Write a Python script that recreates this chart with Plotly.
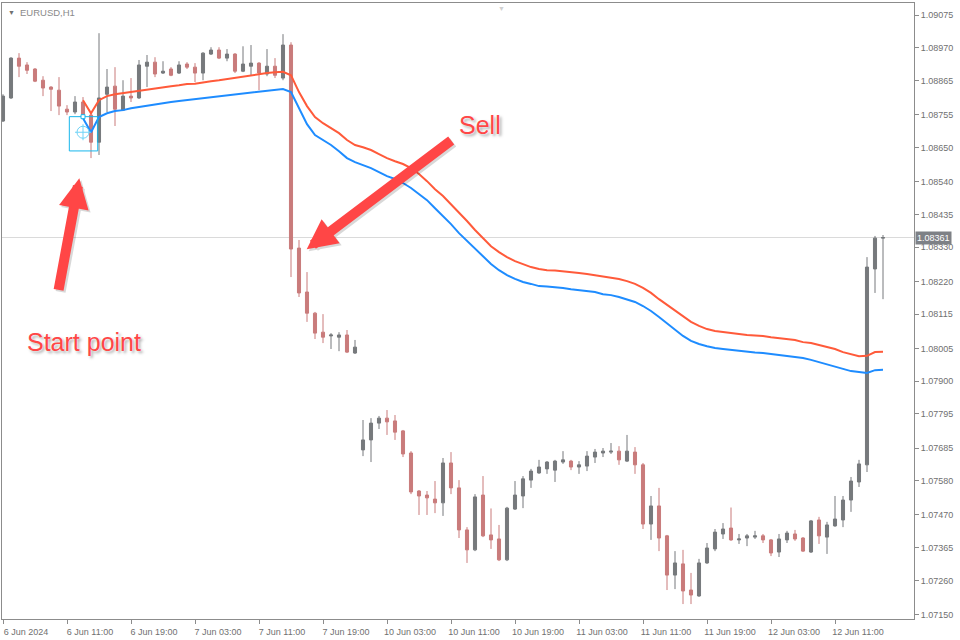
import plotly.graph_objects as go

# ---------------- data (EURUSD H1) ----------------
bar_index = list(range(111))
opens = [1.08735,1.08809,1.08937,1.08915,1.08902,1.08866,1.08844,1.08834,1.08773,1.08764,
         1.08796,1.08754,1.08667,1.08821,1.08847,1.08770,1.08815,1.08809,1.08911,1.08924,
         1.08889,1.08902,1.08889,1.08918,1.08908,1.08889,1.08950,1.08963,1.08937,1.08950,
         1.08895,1.08911,1.08921,1.08886,1.08911,1.08873,1.08979,1.08327,1.08186,1.08118,
         1.08057,1.08045,1.08041,1.08048,1.07990,1.07679,1.07711,1.07765,1.07781,1.07772,
         1.07740,1.07669,1.07547,1.07534,1.07521,1.07509,1.07637,1.07557,1.07422,1.07358,
         1.07534,1.07406,1.07393,1.07326,1.07489,1.07531,1.07582,1.07605,1.07618,1.07614,
         1.07640,1.07643,1.07624,1.07627,1.07656,1.07669,1.07672,1.07675,1.07643,1.07672,
         1.07631,1.07441,1.07499,1.07403,1.07277,1.07313,1.07229,1.07210,1.07316,1.07361,
         1.07409,1.07428,1.07390,1.07396,1.07399,1.07403,1.07390,1.07351,1.07390,1.07409,
         1.07396,1.07351,1.07454,1.07399,1.07435,1.07454,1.07518,1.07576,1.07631,1.08260,
         1.08359]
highs = [1.08821,1.08940,1.08953,1.08924,1.08905,1.08879,1.08847,1.08876,1.08786,1.08815,
         1.08812,1.08764,1.09017,1.08902,1.08908,1.08866,1.08873,1.08931,1.08947,1.08940,
         1.08927,1.08908,1.08927,1.08924,1.08921,1.08956,1.08972,1.08972,1.08966,1.08953,
         1.08975,1.08979,1.08924,1.08966,1.08937,1.09014,1.08988,1.08353,1.08250,1.08122,
         1.08115,1.08054,1.08057,1.08064,1.08032,1.07775,1.07781,1.07788,1.07807,1.07791,
         1.07743,1.07675,1.07550,1.07547,1.07579,1.07653,1.07672,1.07582,1.07431,1.07537,
         1.07595,1.07491,1.07438,1.07496,1.07579,1.07595,1.07618,1.07647,1.07643,1.07647,
         1.07675,1.07647,1.07643,1.07675,1.07682,1.07685,1.07701,1.07691,1.07727,1.07688,
         1.07637,1.07531,1.07557,1.07406,1.07354,1.07358,1.07284,1.07329,1.07380,1.07425,
         1.07444,1.07494,1.07409,1.07409,1.07419,1.07409,1.07393,1.07409,1.07419,1.07422,
         1.07399,1.07454,1.07464,1.07448,1.07531,1.07531,1.07592,1.07647,1.08298,1.08366,
         1.08369]
lows = [1.08732,1.08806,1.08876,1.08886,1.08860,1.08815,1.08767,1.08754,1.08754,1.08757,
        1.08744,1.08616,1.08626,1.08764,1.08719,1.08767,1.08796,1.08806,1.08844,1.08876,
        1.08886,1.08879,1.08886,1.08902,1.08860,1.08866,1.08947,1.08934,1.08927,1.08889,
        1.08892,1.08882,1.08834,1.08879,1.08873,1.08866,1.08234,1.08170,1.08090,1.08035,
        1.08022,1.08003,1.07996,1.07990,1.07987,1.07659,1.07640,1.07746,1.07727,1.07711,
        1.07656,1.07537,1.07470,1.07470,1.07476,1.07467,1.07537,1.07396,1.07316,1.07354,
        1.07399,1.07361,1.07322,1.07322,1.07486,1.07492,1.07557,1.07602,1.07602,1.07576,
        1.07634,1.07614,1.07602,1.07611,1.07637,1.07656,1.07666,1.07631,1.07640,1.07602,
        1.07425,1.07390,1.07354,1.07229,1.07232,1.07184,1.07184,1.07207,1.07313,1.07354,
        1.07393,1.07387,1.07377,1.07370,1.07393,1.07380,1.07338,1.07335,1.07380,1.07387,
        1.07351,1.07348,1.07377,1.07345,1.07432,1.07431,1.07480,1.07560,1.07608,1.08183,
        1.08163]
closes = [1.08815,1.08937,1.08911,1.08898,1.08863,1.08841,1.08837,1.08783,1.08764,1.08796,
          1.08754,1.08667,1.08809,1.08844,1.08773,1.08815,1.08809,1.08915,1.08924,1.08886,
          1.08895,1.08882,1.08915,1.08908,1.08889,1.08953,1.08963,1.08937,1.08950,1.08895,
          1.08918,1.08921,1.08889,1.08911,1.08882,1.08979,1.08324,1.08183,1.08118,1.08054,
          1.08041,1.08048,1.08048,1.07993,1.08009,1.07711,1.07765,1.07781,1.07769,1.07736,
          1.07666,1.07544,1.07531,1.07525,1.07509,1.07637,1.07557,1.07422,1.07358,1.07528,
          1.07403,1.07390,1.07326,1.07492,1.07534,1.07586,1.07611,1.07624,1.07640,1.07643,
          1.07647,1.07624,1.07631,1.07659,1.07672,1.07675,1.07675,1.07647,1.07675,1.07631,
          1.07441,1.07499,1.07396,1.07277,1.07316,1.07226,1.07213,1.07316,1.07364,1.07415,
          1.07425,1.07390,1.07393,1.07403,1.07403,1.07390,1.07348,1.07393,1.07412,1.07393,
          1.07354,1.07451,1.07403,1.07438,1.07457,1.07518,1.07579,1.07634,1.08266,1.08359,
          1.08361]

ma_index = list(range(10, 111))
ma_red = [1.08802,1.08760,1.08802,1.08815,1.08821,1.08825,1.08828,1.08831,1.08837,1.08841,
          1.08844,1.08847,1.08850,1.08854,1.08855,1.08860,1.08863,1.08866,1.08870,1.08873,
          1.08879,1.08882,1.08886,1.08889,1.08892,1.08893,1.08882,1.08828,1.08783,1.08748,
          1.08728,1.08712,1.08696,1.08674,1.08658,1.08651,1.08642,1.08629,1.08616,1.08606,
          1.08597,1.08584,1.08565,1.08542,1.08516,1.08494,1.08468,1.08439,1.08414,1.08385,
          1.08359,1.08333,1.08314,1.08298,1.08285,1.08276,1.08266,1.08260,1.08256,1.08255,
          1.08253,1.08250,1.08247,1.08244,1.08240,1.08237,1.08234,1.08228,1.08221,1.08212,
          1.08199,1.08183,1.08163,1.08144,1.08125,1.08106,1.08090,1.08077,1.08067,1.08061,
          1.08057,1.08054,1.08051,1.08048,1.08047,1.08045,1.08041,1.08038,1.08035,1.08032,
          1.08025,1.08022,1.08016,1.08009,1.08003,1.07993,1.07987,1.07980,1.07981,1.07993,
          1.07994]
ma_blue = [1.08744,1.08699,1.08748,1.08760,1.08767,1.08770,1.08776,1.08780,1.08786,1.08789,
           1.08793,1.08796,1.08799,1.08802,1.08805,1.08809,1.08812,1.08815,1.08818,1.08821,
           1.08825,1.08828,1.08831,1.08834,1.08837,1.08838,1.08828,1.08776,1.08725,1.08690,
           1.08674,1.08658,1.08638,1.08616,1.08603,1.08594,1.08584,1.08571,1.08558,1.08549,
           1.08536,1.08520,1.08500,1.08481,1.08455,1.08430,1.08404,1.08375,1.08350,1.08324,
           1.08298,1.08276,1.08256,1.08240,1.08228,1.08218,1.08212,1.08205,1.08204,1.08202,
           1.08199,1.08195,1.08192,1.08189,1.08186,1.08179,1.08176,1.08170,1.08163,1.08154,
           1.08141,1.08125,1.08106,1.08086,1.08064,1.08045,1.08029,1.08019,1.08012,1.08006,
           1.08003,1.08000,1.07996,1.07993,1.07992,1.07990,1.07987,1.07984,1.07980,1.07977,
           1.07974,1.07968,1.07961,1.07955,1.07948,1.07939,1.07932,1.07929,1.07926,1.07935,
           1.07936]

x_tick_index = [0, 8, 16, 24, 32, 40, 48, 56, 64, 72, 80, 88, 96, 104]
x_tick_labels = ["6 Jun 2024", "6 Jun 11:00", "6 Jun 19:00", "7 Jun 03:00", "7 Jun 11:00",
                 "7 Jun 19:00", "10 Jun 03:00", "10 Jun 11:00", "10 Jun 19:00", "11 Jun 03:00",
                 "11 Jun 11:00", "11 Jun 19:00", "12 Jun 03:00", "12 Jun 11:00"]
y_tick_values = [1.07150, 1.07260, 1.07365, 1.07470, 1.07580, 1.07685, 1.07795, 1.07900,
                 1.08005, 1.08115, 1.08220, 1.08330, 1.08435, 1.08540, 1.08650, 1.08755,
                 1.08865, 1.08970, 1.09075]
last_price = 1.08361
symbol_title = "EURUSD,H1"

# ---------------- styling ----------------
BULL = "#76797c"
BEAR = "#c97b7b"
RED_MA = "#ff5a3a"
BLUE_MA = "#1e8cff"
ARROW = "#ff4646"
AXIS_TXT = "#707070"
FONT = "Liberation Sans, Arial, sans-serif"

fig = go.Figure()
fig.add_trace(go.Candlestick(
    x=bar_index, open=opens, high=highs, low=lows, close=closes,
    increasing=dict(line=dict(color=BULL, width=1), fillcolor=BULL),
    decreasing=dict(line=dict(color=BEAR, width=1), fillcolor=BEAR),
    whiskerwidth=0, showlegend=False, hoverinfo="skip"))
fig.add_trace(go.Scatter(x=ma_index, y=ma_red, mode="lines",
                         line=dict(color=RED_MA, width=2), showlegend=False, hoverinfo="skip"))
fig.add_trace(go.Scatter(x=ma_index, y=ma_blue, mode="lines",
                         line=dict(color=BLUE_MA, width=2), showlegend=False, hoverinfo="skip"))

shapes = [
    # current price line
    dict(type="line", xref="paper", x0=0, x1=1, yref="y", y0=last_price, y1=last_price,
         line=dict(color="#dadada", width=1), layer="below"),
    # start point selection box
    dict(type="rect", xref="x", yref="y", x0=8.29, x1=11.84, y0=1.08639, y1=1.08749,
         line=dict(color="#17b6ec", width=1)),
    # crosshair circle
    dict(type="circle", xref="x", yref="y", xsizemode="pixel", ysizemode="pixel",
         xanchor=10, yanchor=1.08699, x0=-6, x1=6, y0=-6, y1=6,
         line=dict(color="#6fd3f7", width=1)),
    dict(type="line", xref="x", yref="y", xsizemode="pixel", ysizemode="pixel",
         xanchor=10, yanchor=1.08699, x0=-8, x1=8, y0=0, y1=0,
         line=dict(color="#6fd3f7", width=1)),
    dict(type="line", xref="x", yref="y", xsizemode="pixel", ysizemode="pixel",
         xanchor=10, yanchor=1.08699, x0=0, x1=0, y0=-8, y1=8,
         line=dict(color="#6fd3f7", width=1)),
    dict(type="rect", xref="x", yref="y", xsizemode="pixel", ysizemode="pixel",
         xanchor=10, yanchor=1.08749, x0=-2, x1=2, y0=-2, y1=2,
         fillcolor="white", line=dict(color="#17b6ec", width=1)),
]

text_shadow = "0px 0px 2px #ffffff, 2px 2px 3px rgba(0,0,0,0.35)"
annotations = [
    dict(xref="paper", yref="paper", x=0.004, y=0.9935, xanchor="left", yanchor="top",
         text="▼", showarrow=False, font=dict(size=7, color="#707070", family=FONT)),
    dict(xref="paper", yref="paper", x=0.0175, y=0.997, xanchor="left", yanchor="top",
         text=symbol_title, showarrow=False, font=dict(size=9.5, color="#8a8a8a", family=FONT)),
    dict(xref="paper", yref="paper", x=0.548, y=1.0, xanchor="center", yanchor="top",
         text="▼", showarrow=False, font=dict(size=7, color="#d0d0d0", family=FONT)),
    # price label on axis
    dict(xref="paper", yref="y", x=1.0, y=last_price, xanchor="left", yanchor="middle",
         text=f"{last_price:.5f}", showarrow=False, bgcolor="#7e8186", borderpad=1, xshift=1,
         font=dict(size=9, color="white", family=FONT)),
    # arrow shadows
    dict(x=9.54, y=1.08551, xref="x", yref="y", ax=-21, ay=113, text="", showarrow=True,
         arrowhead=2, arrowsize=0.6, arrowwidth=10, arrowcolor="rgba(0,0,0,0.15)",
         standoff=0, xshift=2, yshift=-2),
    dict(x=37.96, y=1.08323, xref="x", yref="y", ax=146, ay=-110, text="", showarrow=True,
         arrowhead=2, arrowsize=0.6, arrowwidth=10, arrowcolor="rgba(0,0,0,0.15)",
         standoff=0, xshift=2, yshift=-2),
    # arrows
    dict(x=9.54, y=1.08551, xref="x", yref="y", ax=-21, ay=113, text="", showarrow=True,
         arrowhead=2, arrowsize=0.6, arrowwidth=10, arrowcolor=ARROW, standoff=0),
    dict(x=37.96, y=1.08323, xref="x", yref="y", ax=146, ay=-110, text="", showarrow=True,
         arrowhead=2, arrowsize=0.6, arrowwidth=10, arrowcolor=ARROW, standoff=0),
    # labels
    dict(x=10.1, y=1.08025, xref="x", yref="y", text="Start point", showarrow=False,
         xanchor="center", yanchor="middle",
         font=dict(size=25, color=ARROW, family=FONT, shadow=text_shadow)),
    dict(x=59.6, y=1.08722, xref="x", yref="y", text="Sell", showarrow=False,
         xanchor="center", yanchor="middle",
         font=dict(size=25, color=ARROW, family=FONT, shadow=text_shadow)),
]

fig.update_layout(
    width=960, height=640,
    margin=dict(l=2, r=46, t=3, b=21),
    paper_bgcolor="white", plot_bgcolor="white",
    hovermode=False, showlegend=False, boxgap=0.45,
    font=dict(family=FONT, size=9, color=AXIS_TXT),
    shapes=shapes, annotations=annotations,
    xaxis=dict(range=[-0.125, 113.875], rangeslider=dict(visible=False),
               tickmode="array", tickvals=x_tick_index, ticktext=x_tick_labels,
               ticks="outside", ticklen=4, tickcolor="#8c8c8c", ticklabelshift=23,
               showgrid=False, zeroline=False, showline=True, linecolor="#8c8c8c",
               linewidth=1, mirror=True, fixedrange=True,
               tickfont=dict(size=9, color=AXIS_TXT, family=FONT)),
    yaxis=dict(range=[1.07136, 1.09114], side="right",
               tickmode="array", tickvals=y_tick_values,
               ticktext=[f"{v:.5f}" for v in y_tick_values],
               ticks="outside", ticklen=4, tickcolor="#8c8c8c",
               showgrid=False, zeroline=False, showline=True, linecolor="#8c8c8c",
               linewidth=1, mirror=True, fixedrange=True,
               tickfont=dict(size=9, color=AXIS_TXT, family=FONT)),
)

fig.write_html("out.html", config={"displayModeBar": False},
               post_script="document.body.style.margin='0px';document.body.style.padding='0px';")
